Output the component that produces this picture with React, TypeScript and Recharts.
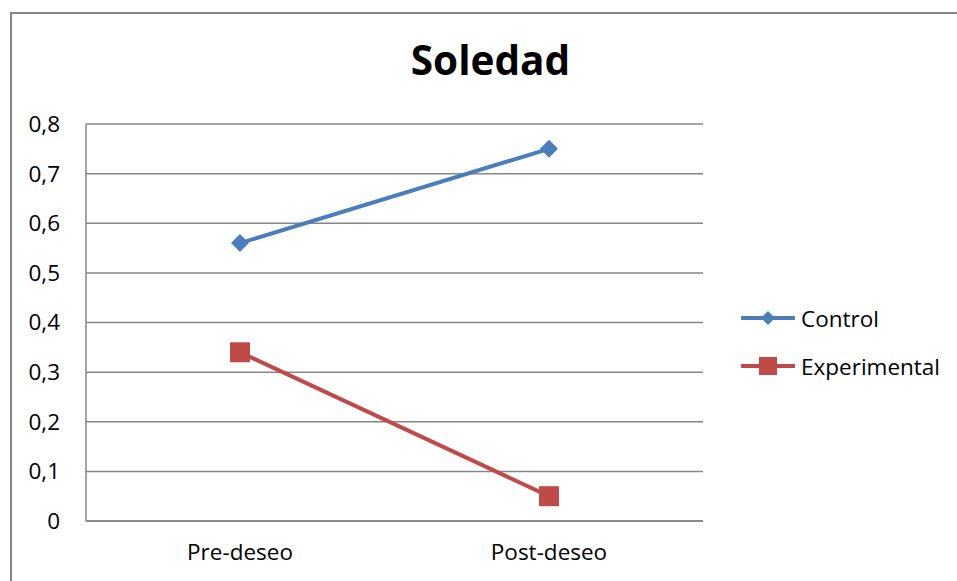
import { LineChart, Line, XAxis, YAxis, CartesianGrid, Legend } from "recharts";

const categories = ["Pre-deseo", "Post-deseo"];
const controlValues = [0.56, 0.75];
const experimentalValues = [0.34, 0.05];
const yTicks = [0, 0.1, 0.2, 0.3, 0.4, 0.5, 0.6, 0.7, 0.8];

const BLUE = "#4a7ebb";
const RED = "#be4b48";
const GRID = "#868686";
const FONT = "'Open Sans', Lato, sans-serif";

const data = categories.map((c, i) => ({
  label: c,
  Control: controlValues[i],
  Experimental: experimentalValues[i],
}));

const Diamond = (props: any) => {
  const { cx, cy } = props;
  if (cx == null || cy == null) return null;
  const r = 9;
  return <path d={`M${cx},${cy - r}L${cx + r},${cy}L${cx},${cy + r}L${cx - r},${cy}Z`} fill={BLUE} />;
};

const Square = (props: any) => {
  const { cx, cy } = props;
  if (cx == null || cy == null) return null;
  const s = 10;
  return <rect x={cx - s} y={cy - s} width={s * 2} height={s * 2} fill={RED} />;
};

function LegendBox() {
  const items = [
    { name: "Control", color: BLUE, shape: "diamond" },
    { name: "Experimental", color: RED, shape: "square" },
  ];
  return (
    <div style={{ fontFamily: FONT, fontSize: 22.5, color: "#000" }}>
      {items.map((it) => (
        <div key={it.name} style={{ display: "flex", alignItems: "center", height: 48 }}>
          <svg width={58} height={24} style={{ marginRight: 4 }}>
            <line x1={2} y1={12} x2={56} y2={12} stroke={it.color} strokeWidth={4} />
            {it.shape === "diamond" ? (
              <path d="M29,5L36,12L29,19L22,12Z" fill={it.color} />
            ) : (
              <rect x={20} y={3} width={18} height={18} fill={it.color} />
            )}
          </svg>
          <span>{it.name}</span>
        </div>
      ))}
    </div>
  );
}

export default function App() {
  return (
    <div style={{ position: "absolute", left: 0, top: 0, width: 957, height: 581, overflow: "hidden", background: "#fff" }}>
      {/* chart frame: only the left and top edges are inside the picture */}
      <div
        style={{
          position: "absolute",
          left: 10,
          top: 12,
          width: 1000,
          height: 700,
          borderLeft: `2px solid ${GRID}`,
          borderTop: `2px solid ${GRID}`,
        }}
      />
      <div
        style={{
          position: "absolute",
          left: 0,
          width: 981,
          top: 32,
          textAlign: "center",
          fontFamily: FONT,
          fontWeight: "bold",
          fontSize: 40.5,
          color: "#000",
        }}
      >
        Soledad
      </div>
      <div style={{ position: "absolute", left: 0, top: 0 }}>
        <LineChart width={957} height={581} data={data} margin={{ top: 124, right: 254, bottom: 10, left: 10 }}>
          <CartesianGrid vertical={false} stroke={GRID} strokeWidth={1.5} />
          <XAxis
            dataKey="label"
            padding={{ left: 154, right: 154 }}
            axisLine={{ stroke: GRID, strokeWidth: 1.5 }}
            tickLine={false}
            tickSize={0}
            tickMargin={23}
            height={50}
            tick={{ fontSize: 22.5, fill: "#000", fontFamily: FONT }}
          />
          <YAxis
            domain={[0, 0.8]}
            ticks={yTicks}
            width={76}
            axisLine={{ stroke: GRID, strokeWidth: 1.5 }}
            tickLine={false}
            tickSize={0}
            tickMargin={26}
            tickFormatter={(v: number) => String(v).replace(".", ",")}
            tick={{ fontSize: 22.5, fill: "#000", fontFamily: FONT }}
          />
          <Legend
            layout="vertical"
            verticalAlign="middle"
            align="center"
            content={() => <LegendBox />}
            wrapperStyle={{ position: "absolute", left: 739, top: 294, width: 220 }}
          />
          <Line dataKey="Control" stroke={BLUE} strokeWidth={4} dot={<Diamond />} activeDot={false} isAnimationActive={false} />
          <Line dataKey="Experimental" stroke={RED} strokeWidth={4} dot={<Square />} activeDot={false} isAnimationActive={false} />
        </LineChart>
      </div>
    </div>
  );
}
